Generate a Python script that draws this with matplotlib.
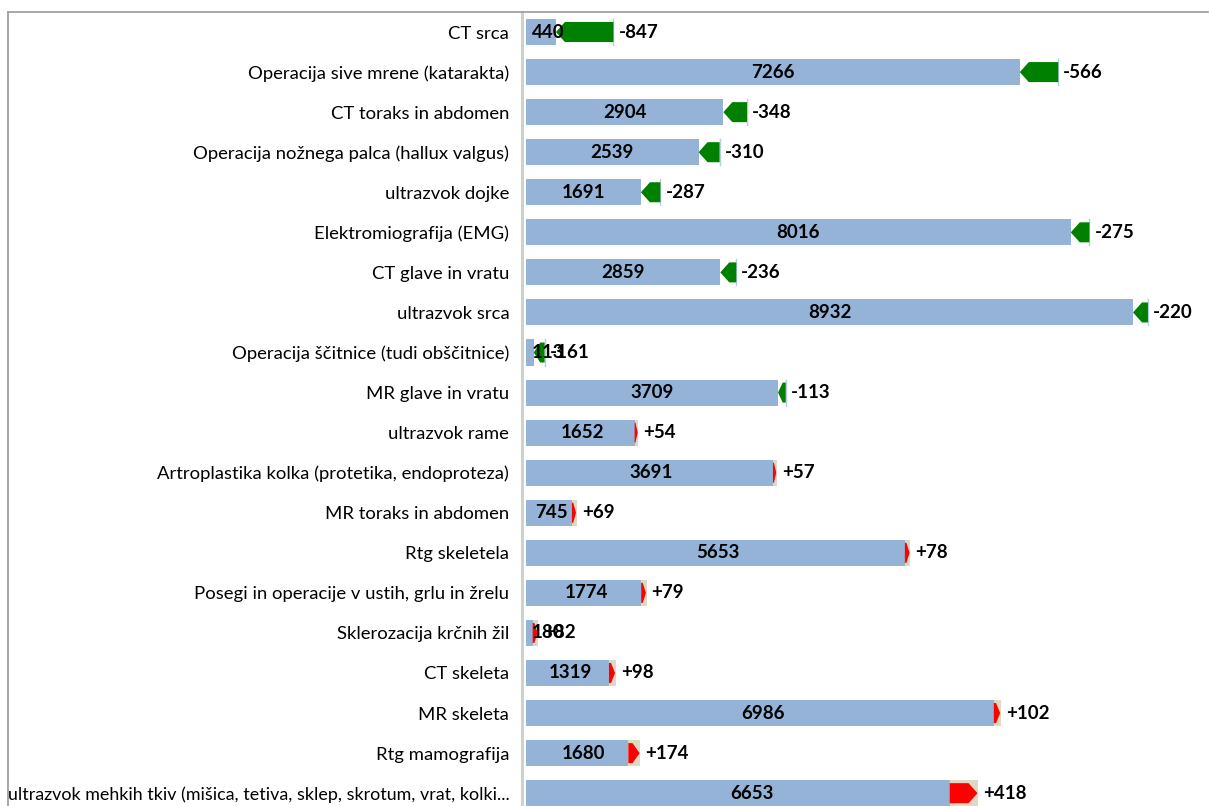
import numpy as np
import matplotlib.pyplot as plt

# posegi (storitve), nova vrednost in sprememba
categories = ['CT srca', 'Operacija sive mrene (katarakta)', 'CT toraks in abdomen',
              'Operacija nožnega palca (hallux valgus)', 'ultrazvok dojke',
              'Elektromiografija (EMG)', 'CT glave in vratu', 'ultrazvok srca',
              'Operacija ščitnice (tudi obščitnice)', 'MR glave in vratu', 'ultrazvok rame',
              'Artroplastika kolka (protetika, endoproteza)', 'MR toraks in abdomen',
              'Rtg skeletela', 'Posegi in operacije v ustih, grlu in žrelu',
              'Sklerozacija krčnih žil', 'CT skeleta', 'MR skeleta', 'Rtg mamografija',
              'ultrazvok mehkih tkiv (mišica, tetiva, sklep, skrotum, vrat, kolki...']
new_vals = [440, 7266, 2904, 2539, 1691, 8016, 2859, 8932, 113, 3709,
            1652, 3691, 745, 5653, 1774, 180, 1319, 6986, 1680, 6653]
changes = [-847, -566, -348, -310, -287, -275, -236, -220, -161, -113,
           54, 57, 69, 78, 79, 82, 98, 102, 174, 418]

blue = '#95B3D7'
beige = '#DDD9C3'
green = '#008000'
red = '#FF0000'

plt.rcParams['font.family'] = ['Lato', 'DejaVu Sans']

fig = plt.figure(figsize=(12.09, 8.06), dpi=100)
ax = fig.add_axes([526 / 1209, 0, 683 / 1209, 794 / 806])
xmax = 10050
ax.set_xlim(0, xmax)
ax.set_ylim(19.32, -0.5)
px = xmax / 683.0  # data units per pixel

bar_h = 0.65
arr_h = 0.5
head = 9 * px

y = np.arange(len(categories))
for i in range(len(categories)):
    new = new_vals[i]
    old = new - changes[i]
    lo = min(new, old)
    hi = max(new, old)
    if changes[i] > 0:
        ax.barh(y[i], new, height=bar_h, color=beige, zorder=1)
    ax.barh(y[i], lo, height=bar_h, color=blue, zorder=2)
    length = hi - lo
    hl = min(head, length * 0.6)
    t, b = y[i] - arr_h / 2, y[i] + arr_h / 2
    if changes[i] < 0:
        ax.plot([old, old], [y[i] - bar_h / 2, y[i] + bar_h / 2], color='#B8CCE4', lw=1, zorder=2)
        xs = [new, new + hl, old, old, new + hl]
        ys = [y[i], t, t, b, b]
        ax.fill(xs, ys, color=green, zorder=3, lw=0)
    else:
        end = new - 0.6 * px
        xs = [old, end - hl, end, end - hl, old]
        ys = [t, t, y[i], b, b]
        ax.fill(xs, ys, color=red, zorder=3, lw=0)
    # value label centred on the new-value bar, kept inside the plot
    lab = str(new)
    cx = max(new / 2, (7 + 5 * len(lab)) * px)
    ax.text(cx, y[i], lab, ha='center', va='center', fontsize=13.5,
            fontweight='bold', color='black', zorder=4)
    sign = '+' if changes[i] > 0 else ''
    ax.text(hi + 5 * px, y[i], sign + str(changes[i]), ha='left', va='center',
            fontsize=13.5, fontweight='bold', color='black', zorder=4, clip_on=False)

ax.set_yticks(y)
ax.set_yticklabels(categories)
ax.tick_params(axis='y', length=0, pad=9, labelsize=13.3)
ax.set_xticks([])
for s in ['top', 'right', 'bottom']:
    ax.spines[s].set_visible(False)
ax.spines['left'].set_position(('outward', 3))
ax.spines['left'].set_color('#D0D0D0')
ax.spines['left'].set_linewidth(2.2)

# chart area frame (top and left edges)
fig.add_artist(plt.Line2D([8 / 1209, 1208 / 1209], [794 / 806, 794 / 806],
                          color='#9A9A9A', lw=1.2, transform=fig.transFigure))
fig.add_artist(plt.Line2D([8 / 1209, 8 / 1209], [0, 794 / 806],
                          color='#9A9A9A', lw=1.2, transform=fig.transFigure))

# the long last label has to fit inside the frame
fig.canvas.draw()
ax.yaxis.get_major_ticks()[-1].label1.set_fontsize(12.9)

fig.savefig('out.png', dpi=100)
